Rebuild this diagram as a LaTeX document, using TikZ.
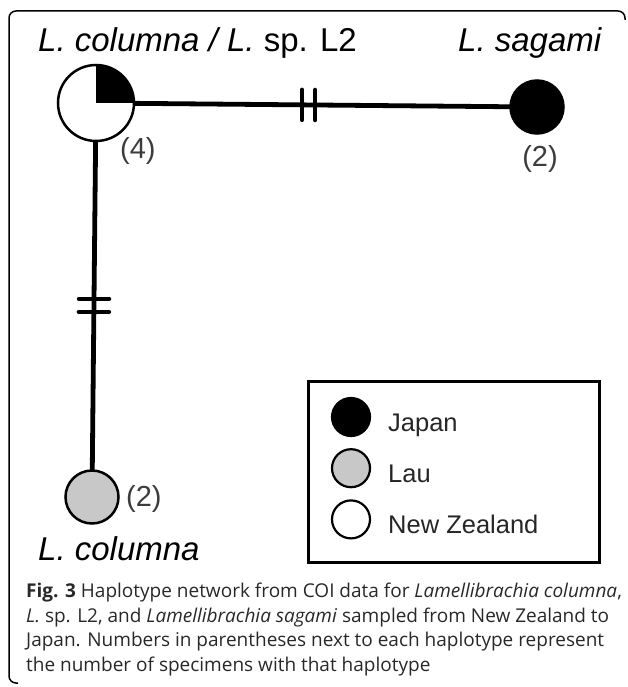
\documentclass[tikz,border=0pt]{standalone}
\usepackage{fontspec}
\setmainfont{Liberation Sans}
\newfontfamily\captionfont{Open Sans}
\usetikzlibrary{positioning,calc}
\definecolor{laugray}{RGB}{200,200,200}
\definecolor{numgray}{RGB}{60,60,60}
\definecolor{capgray}{RGB}{40,40,40}

\begin{document}
\begin{tikzpicture}[x=1pt,y=1pt,
  hap/.style={circle,draw,line width=2.5pt,inner sep=0pt,outer sep=0pt},
  key/.style={circle,draw,line width=2.2pt,inner sep=0pt,minimum size=38pt},
  link/.style={line width=4.8pt},
  cutmark/.style={line width=4.5pt,line cap=round},
  count/.style={font=\fontsize{29}{32}\selectfont,text=numgray,inner sep=0pt},
  species/.style={font=\fontsize{33}{38}\selectfont,inner sep=0pt,anchor=base west},
  keytext/.style={font=\fontsize{25.5}{30}\selectfont,text=black!85,inner sep=0pt,anchor=base west}]
    \useasboundingbox (0,0) rectangle (627,-687);
    % frame
    \draw[line width=1.5pt,rounded corners=7pt] (625,-20) -- (625,-11) -- (9,-11) -- (9,-683) -- (18,-683);
    %
    \node[hap,fill=white,minimum size=76pt] (nz) at (96,-103) {};
    \fill ($(nz.center)+(38,0)$) arc[start angle=0,end angle=90,radius=38pt] -- (nz.center) -- cycle;
    \node[hap,fill=black,minimum size=53pt] (sag) at (537,-107) {};
    \node[hap,fill=laugray,minimum size=53pt] (lau) at (92,-497) {};
    %
    \draw[link] (nz) -- (sag);
    \draw[link] (nz) -- (lau);
    \path (nz.center) -- (sag.center) coordinate[pos=0.467] (h1) coordinate[pos=0.497] (h2);
    \path (nz.center) -- (lau.center) coordinate[pos=0.497] (v1) coordinate[pos=0.530] (v2);
    \draw[cutmark] ($(h1)+(0,15)$) -- ($(h1)+(0,-15)$);
    \draw[cutmark] ($(h2)+(0,15)$) -- ($(h2)+(0,-15)$);
    \draw[cutmark] ($(v1)+(-15,0)$) -- ($(v1)+(15,0)$);
    \draw[cutmark] ($(v2)+(-15,0)$) -- ($(v2)+(15,0)$);
    %
    \node[species] (lblnz) at (38,-52) {\textit{L. columna / L.} sp. L2};
    \node[species] (lblsag) at (458,-52) {\textit{L. sagami}};
    \node[species] (lbllau) at (38,-560) {\textit{L. columna}};
    \node[count,anchor=base west] (cntnz) at (120,-159) {(4)};
    \node[count,anchor=base] (cntsag) at (540,-167) {(2)};
    \node[count,anchor=base west] (cntlau) at (126,-506) {(2)};
    % legend
    \node[draw,line width=2.5pt,minimum width=291pt,minimum height=181pt,inner sep=0pt,anchor=north west] (legend) at (307,-380) {};
    \node[key,fill=black] (kjp) at (351,-417) {};
    \node[key,fill=laugray,below=11pt of kjp] (klau) {};
    \node[key,fill=white,below=11pt of klau] (knz) {};
    \node[keytext] (tjp) at ($(kjp.center)+(37,-14)$) {Japan};
    \node[keytext] (tlau) at ($(klau.center)+(37,-14)$) {Lau};
    \node[keytext] (tnz) at ($(knz.center)+(37,-14)$) {New Zealand};
    % caption
    \node[anchor=north west,inner sep=0pt,align=left,text=capgray,
      font=\captionfont\fontsize{19}{24.5}\selectfont] (caption) at (26,-583)
      {\textbf{Fig. 3} Haplotype network from COI data for \textit{Lamellibrachia columna},\\
       \textit{L.} sp. L2, and \textit{Lamellibrachia sagami} sampled from New Zealand to\\
       Japan. Numbers in parentheses next to each haplotype represent\\
       the number of specimens with that haplotype};
\end{tikzpicture}
\end{document}
